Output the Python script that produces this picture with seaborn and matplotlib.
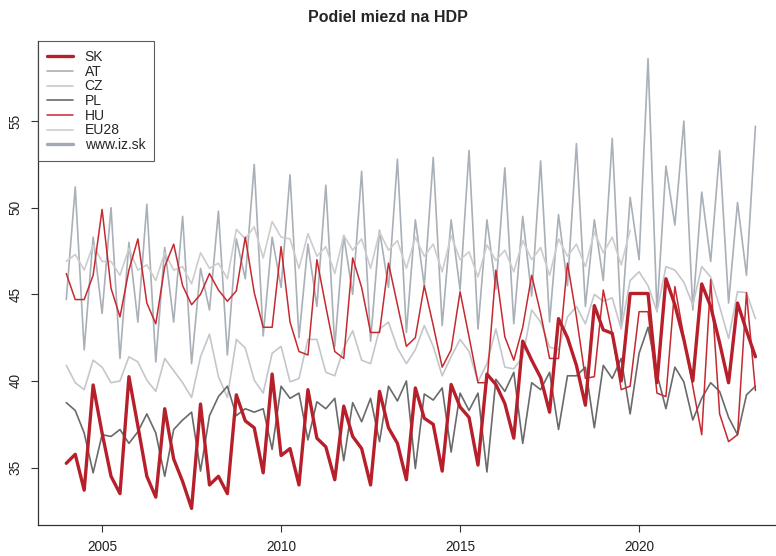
import numpy as np
import pandas as pd
import seaborn as sns
import matplotlib.pyplot as plt
from matplotlib.lines import Line2D

# kvartalne udaje 2004Q1 - 2023Q2
kvartaly = 2004 + np.arange(78) / 4

sk = [35.25, 35.77, 33.7, 39.77, 37.0, 34.5, 33.5, 40.25, 37.4, 34.5, 33.3, 38.4, 35.5, 34.2, 32.65, 38.67,
      34.0, 34.5, 33.5, 39.2, 37.7, 37.3, 34.7, 40.4, 35.7, 36.1, 34.0, 39.5, 36.7, 36.2, 34.3, 38.55,
      36.8, 36.1, 34.0, 39.4, 37.3, 36.4, 34.3, 39.6, 37.85, 37.5, 34.8, 39.8, 38.5, 37.9, 35.15, 40.4,
      39.8, 38.7, 36.7, 42.3, 41.2, 40.2, 38.2, 43.6, 42.5, 40.9, 38.6, 44.35, 42.95, 42.75, 40.0, 45.05,
      45.05, 45.05, 39.9, 45.9, 44.4, 42.4, 40.0, 45.6, 44.3, 42.2, 39.9, 44.5, 42.9, 41.4]

at = [44.7, 51.2, 41.8, 48.3, 43.9, 50.0, 41.3, 48.0, 43.4, 50.2, 41.1, 47.7, 43.4, 49.5, 41.0, 46.5,
      44.1, 49.8, 41.5, 48.2, 45.9, 52.5, 42.6, 48.3, 45.4, 51.9, 42.5, 47.9, 44.3, 51.3, 42.0, 48.4,
      45.0, 52.1, 42.3, 48.7, 45.4, 52.8, 42.8, 49.3, 45.5, 52.9, 43.2, 49.3, 45.25, 53.3, 43.0, 49.3,
      45.3, 52.3, 43.3, 49.5, 44.9, 52.7, 43.4, 49.6, 45.5, 53.7, 44.3, 49.3, 45.8, 54.0, 43.2, 50.6,
      47.0, 58.6, 44.0, 52.4, 49.0, 55.0, 44.1, 50.9, 46.9, 53.3, 44.5, 50.3, 46.1, 54.7]

cz = [40.9, 39.9, 39.5, 41.2, 40.8, 39.9, 40.0, 41.4, 41.1, 40.05, 39.4, 41.3, 40.6, 39.9, 39.05, 41.4,
      42.7, 40.25, 39.05, 42.4, 41.9, 40.05, 39.3, 41.6, 42.0, 39.95, 40.15, 42.4, 42.4, 40.5, 40.3, 41.9,
      42.9, 41.2, 41.0, 43.0, 43.4, 41.9, 41.0, 41.8, 43.2, 42.0, 40.3, 41.4, 42.4, 41.7, 39.95, 41.0,
      43.0, 40.8, 40.7, 41.4, 44.1, 43.4, 41.95, 41.8, 43.7, 44.3, 43.3, 45.0, 44.6, 44.8, 43.0, 45.8,
      46.3, 45.5, 44.0, 46.6, 46.4, 45.7, 44.4, 46.6, 46.0, 44.3, 42.45, 45.15, 45.1, 43.6]

pl = [38.75, 38.3, 37.0, 34.7, 36.9, 36.8, 37.2, 36.4, 37.07, 38.1, 37.0, 34.5, 37.2, 37.75, 38.2, 34.8,
      38.0, 39.1, 39.7, 38.0, 38.4, 38.2, 38.4, 36.05, 39.7, 39.0, 39.3, 36.6, 38.8, 38.4, 39.0, 35.4,
      38.75, 37.65, 39.0, 36.5, 39.7, 38.85, 40.0, 34.95, 39.25, 38.9, 39.6, 35.9, 39.3, 38.3, 39.3, 34.75,
      40.1, 39.4, 40.5, 36.4, 39.9, 39.5, 40.5, 37.2, 40.3, 40.3, 40.8, 37.3, 40.9, 40.15, 41.3, 38.1,
      41.6, 43.1, 40.4, 38.4, 40.8, 39.95, 37.75, 39.0, 39.9, 39.4, 37.9, 36.9, 39.2, 39.7]

hu = [46.2, 44.7, 44.7, 46.1, 49.9, 45.35, 43.7, 46.4, 48.2, 44.5, 43.3, 46.6, 47.9, 45.5, 44.4, 45.0,
      46.2, 45.25, 44.6, 45.2, 48.3, 45.1, 43.1, 43.1, 47.75, 43.4, 41.7, 41.5, 47.0, 44.3, 41.7, 41.3,
      47.1, 45.4, 42.8, 42.8, 46.8, 44.4, 42.0, 42.5, 45.5, 43.2, 40.8, 41.8, 45.15, 42.55, 39.9, 39.9,
      46.4, 42.55, 41.2, 43.1, 46.1, 43.9, 41.3, 41.3, 46.8, 43.7, 40.15, 40.25, 45.25, 42.75, 39.5, 39.7,
      44.0, 44.0, 39.3, 39.1, 45.45, 42.55, 39.7, 36.9, 45.85, 38.1, 36.5, 36.9, 45.1, 39.45]

# EU28 konci 2019Q4
eu28 = [46.9, 47.3, 46.4, 47.85, 46.9, 46.9, 46.1, 47.65, 46.4, 46.7, 45.8, 47.4, 46.4, 46.6, 45.6, 47.4,
        46.5, 46.8, 45.9, 48.75, 48.2, 48.9, 47.1, 49.2, 48.3, 48.2, 46.5, 48.5, 47.2, 47.75, 46.2, 48.4,
        47.55, 48.2, 46.5, 48.6, 47.55, 48.1, 46.5, 48.3, 47.2, 47.9, 46.3, 48.4, 47.0, 47.45, 46.0, 47.85,
        46.95, 47.55, 46.3, 48.1, 47.0, 47.7, 46.1, 48.2, 47.2, 47.9, 46.6, 48.6, 47.4, 48.3, 46.7, 48.7]

krajiny = ["SK", "AT", "CZ", "PL", "HU", "EU28", "www.iz.sk"]
farby = {"SK": "#b7202b", "AT": "#a9b0b8", "CZ": "#c3c7cc", "PL": "#6a6a6a",
         "HU": "#c42a31", "EU28": "#cdcdcd", "www.iz.sk": "#a3aab3"}
hrubky = {"SK": 2.4, "AT": 1.2, "CZ": 1.2, "PL": 1.2, "HU": 1.1, "EU28": 1.2, "www.iz.sk": 2.4}

df = pd.concat([
    pd.DataFrame({"t": kvartaly, "v": at, "k": "AT"}),
    pd.DataFrame({"t": kvartaly, "v": cz, "k": "CZ"}),
    pd.DataFrame({"t": kvartaly[:len(eu28)], "v": eu28, "k": "EU28"}),
    pd.DataFrame({"t": kvartaly, "v": pl, "k": "PL"}),
    pd.DataFrame({"t": kvartaly, "v": hu, "k": "HU"}),
    pd.DataFrame({"t": kvartaly, "v": sk, "k": "SK"}),
])

sns.set_style("white")
plt.rcParams["font.family"] = ["Liberation Sans", "DejaVu Sans"]

fig = plt.figure(figsize=(7.76, 5.56), dpi=100)
ax = fig.add_axes([38 / 776, 31 / 556, 745 / 776, 484 / 556])

for k in ["AT", "CZ", "EU28", "PL", "HU", "SK"]:
    d = df[df["k"] == k]
    sns.lineplot(data=d, x="t", y="v", ax=ax, color=farby[k], linewidth=hrubky[k],
                 legend=False, sort=False)

ax.set_xlim(2003.21, 2024.02)
ax.set_ylim(31.69, 59.62)
ax.set_xticks([2005, 2010, 2015, 2020])
ax.set_yticks([35, 40, 45, 50, 55])
ax.set_xlabel("")
ax.set_ylabel("")
for s in ["top", "right"]:
    ax.spines[s].set_visible(False)
for s in ["left", "bottom"]:
    ax.spines[s].set_color("#333333")
    ax.spines[s].set_linewidth(0.9)
ax.tick_params(axis="both", direction="out", length=5, width=0.8, color="#333333",
               labelsize=9.8, labelcolor="#222222", left=True, bottom=True)
ax.tick_params(axis="x", pad=6)
ax.tick_params(axis="y", pad=6)
for lab in ax.get_yticklabels():
    lab.set_rotation(90)
    lab.set_va("center")

fig.text(0.5, 1 - 18 / 556, "Podiel miezd na HDP", ha="center", va="center",
         fontsize=11.5, fontweight="bold")

handles = [Line2D([], [], color=farby[k], linewidth=hrubky[k]) for k in krajiny]
leg = ax.legend(handles, krajiny, loc="upper left", bbox_to_anchor=(0, 1), borderaxespad=0,
                frameon=True, fancybox=False, edgecolor="#333333", fontsize=10,
                handlelength=1.9, handletextpad=0.8, labelspacing=0.05, borderpad=0.65)
leg.get_frame().set_linewidth(0.8)

fig.savefig("out.png", dpi=100)
